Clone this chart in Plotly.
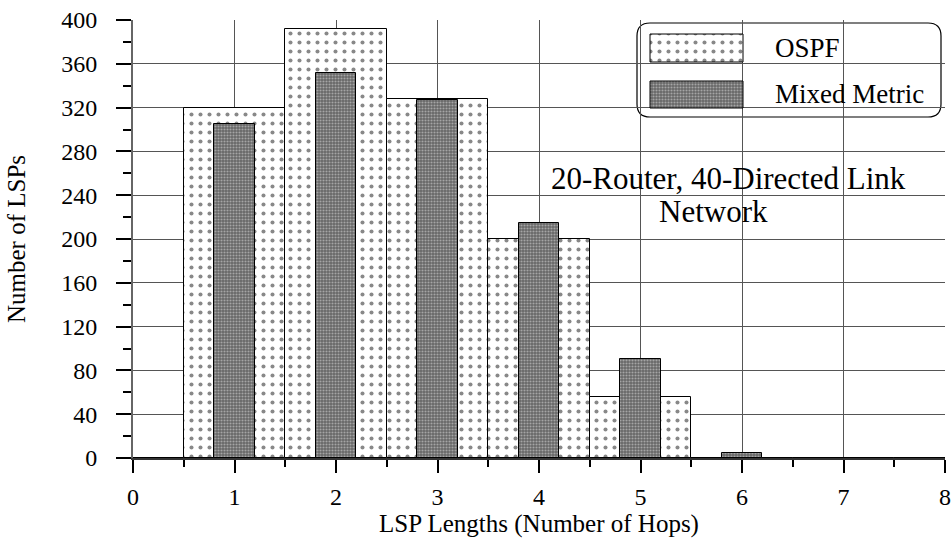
import plotly.graph_objects as go

# LSP length distribution (number of hops) for the two routing schemes
hops = [0, 1, 2, 3, 4, 5, 6, 7, 8]
ospf_lsps = [0, 320, 392, 328, 200, 56, 0, 0, 0]
mixed_lsps = [0, 305, 352, 327, 215, 90, 5, 0, 0]

series_names = ["OSPF", "Mixed Metric"]
y_ticks = list(range(0, 401, 40))
x_ticks = list(range(0, 9))

FONT = "Liberation Serif"
W, H = 952, 538
L, R, T, B = 133, 7, 20, 80
X_MAX, Y_MAX = 8, 400

ospf_pattern = dict(shape=".", bgcolor="white", fgcolor="#111111", size=9, solidity=0.16)
mixed_pattern = dict(shape=".", bgcolor="#666666", fgcolor="#e4e4e4", size=3, solidity=0.4)


def px_to_data(px, py):
    """Convert page pixel positions inside the plot area to axis units."""
    pw, ph = W - L - R, H - T - B
    return (px - L) / pw * X_MAX, (H - B - py) / ph * Y_MAX


def px_to_paper(px, py):
    pw, ph = W - L - R, H - T - B
    return (px - L) / pw, (H - B - py) / ph


fig = go.Figure()

fig.add_trace(go.Bar(
    x=hops, y=ospf_lsps, width=1.0, name=series_names[0],
    marker=dict(color="white", pattern=ospf_pattern, line=dict(color="black", width=1)),
    showlegend=False,
))
fig.add_trace(go.Bar(
    x=hops, y=mixed_lsps, width=0.4, name=series_names[1],
    marker=dict(color="#666666", pattern=mixed_pattern, line=dict(color="black", width=1)),
    showlegend=False,
))

# Hand-drawn legend: rounded box with patterned swatches
box = (637, 23, 941, 117)
rad = 13
x0, y0 = px_to_paper(box[0], box[3])
x1, y1 = px_to_paper(box[2], box[1])
rx = rad / (W - L - R)
ry = rad / (H - T - B)
path = (
    f"M {x0 + rx},{y0} L {x1 - rx},{y0} Q {x1},{y0} {x1},{y0 + ry} "
    f"L {x1},{y1 - ry} Q {x1},{y1} {x1 - rx},{y1} "
    f"L {x0 + rx},{y1} Q {x0},{y1} {x0},{y1 - ry} "
    f"L {x0},{y0 + ry} Q {x0},{y0} {x0 + rx},{y0} Z"
)
fig.add_shape(type="path", path=path, xref="paper", yref="paper",
              fillcolor="white", line=dict(color="black", width=1.2), layer="between")

swatches = [(650, 34, 743, 62, ospf_pattern, "white"),
            (650, 81, 743, 108, mixed_pattern, "#666666")]
text_rows = [48, 94]
for (sx0, sy0, sx1, sy1, pat, col), name, ty in zip(swatches, series_names, text_rows):
    ax0, ay0 = px_to_data(sx0, sy1)
    ax1, ay1 = px_to_data(sx1, sy0)
    fig.add_trace(go.Scatter(
        x=[ax0, ax1, ax1, ax0, ax0], y=[ay0, ay0, ay1, ay1, ay0],
        mode="lines", fill="toself", fillcolor=col, fillpattern=pat,
        line=dict(color="black", width=1), hoverinfo="skip", showlegend=False,
    ))
    tx, typ = px_to_paper(773, ty)
    fig.add_annotation(x=tx, y=typ, xref="paper", yref="paper", text=name,
                       showarrow=False, xanchor="left", yanchor="middle",
                       font=dict(family=FONT, size=27, color="black"))

# Network description
nx, ny1 = px_to_paper(728, 178)
nx2, ny2 = px_to_paper(713, 211)
fig.add_annotation(x=nx, y=ny1, xref="paper", yref="paper", text="20-Router, 40-Directed Link",
                   showarrow=False, xanchor="center", yanchor="middle",
                   font=dict(family=FONT, size=31, color="black"))
fig.add_annotation(x=nx2, y=ny2, xref="paper", yref="paper", text="Network",
                   showarrow=False, xanchor="center", yanchor="middle",
                   font=dict(family=FONT, size=31, color="black"))

tick_font = dict(family=FONT, size=24, color="black")

fig.update_layout(
    width=W, height=H,
    margin=dict(l=L, r=R, t=T, b=B, pad=0, autoexpand=False),
    barmode="overlay", bargap=0,
    plot_bgcolor="white", paper_bgcolor="white",
    font=dict(family=FONT, size=24, color="black"),
    showlegend=False,
)
fig.update_xaxes(
    range=[0, X_MAX], tickvals=x_ticks, ticks="outside", ticklen=13, tickwidth=1.5,
    tickcolor="black", showline=True, linecolor="#333333", linewidth=2,
    showgrid=True, gridcolor="#555555", gridwidth=1, zeroline=False, automargin=False,
    minor=dict(dtick=0.5, ticks="outside", ticklen=7, tickwidth=1.5, tickcolor="black", showgrid=False),
    tickfont=tick_font, ticklabelstandoff=3,
    title=dict(text="LSP Lengths (Number of Hops)", font=dict(family=FONT, size=25), standoff=10),
)
fig.update_yaxes(
    range=[0, Y_MAX], tickvals=y_ticks, ticks="outside", ticklen=15, tickwidth=1.5,
    tickcolor="black", showline=True, linecolor="#666666", linewidth=2,
    showgrid=True, gridcolor="#555555", gridwidth=1, zeroline=False, automargin=False,
    minor=dict(dtick=20, ticks="outside", ticklen=8, tickwidth=1.5, tickcolor="black", showgrid=False),
    tickfont=tick_font, ticklabelstandoff=14,
    title=dict(text="Number of LSPs", font=dict(family=FONT, size=25), standoff=28),
)

fig.write_html("out.html")
